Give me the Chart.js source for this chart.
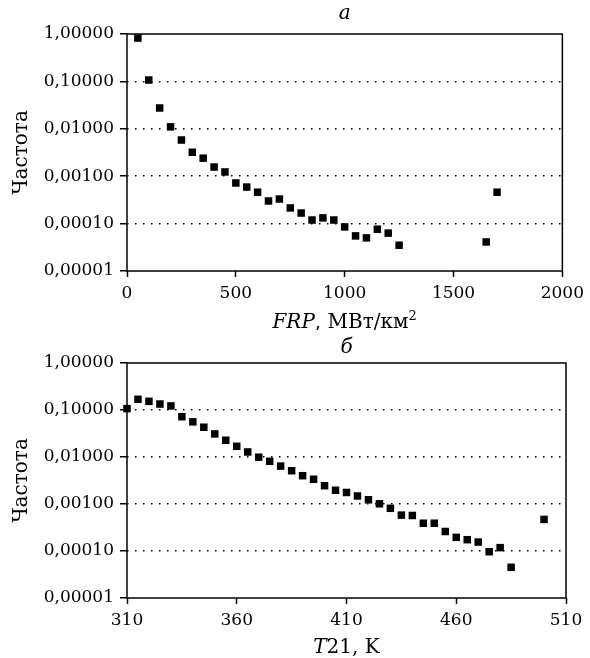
<!DOCTYPE html>
<html><head><meta charset="utf-8">
<script src="https://cdn.jsdelivr.net/npm/chart.js@4.4.0/dist/chart.umd.min.js"></script>
<style>
html,body{margin:0;padding:0;background:#fff;}
#wrap{position:relative;width:590px;height:658px;overflow:hidden;}
canvas{position:absolute;left:0;}
</style></head><body>
<div id="wrap">
<canvas id="c1" width="590" height="330" style="top:0px"></canvas>
<canvas id="c2" width="590" height="328" style="top:330px"></canvas>
</div>
<script>
// ---- data ----
const frpValues = [50,100,150,200,250,300,350,400,450,500,550,600,650,700,750,800,850,900,950,1000,1050,1100,1150,1200,1250,1650,1700];
const frpFreq   = [0.82,0.107,0.0275,0.011,0.0058,0.0032,0.0024,0.00156,0.00123,0.00072,0.00059,0.00046,0.00030,0.00033,0.000214,0.000167,0.000119,0.000132,0.000119,0.000085,0.000055,0.000050,0.000076,0.000063,0.000035,0.000041,0.00046];
const t21Values = [310,315,320,325,330,335,340,345,350,355,360,365,370,375,380,385,390,395,400,405,410,415,420,425,430,435,440,445,450,455,460,465,470,475,480,485,500];
const t21Freq   = [0.107,0.169,0.153,0.134,0.122,0.072,0.056,0.043,0.031,0.0227,0.0169,0.0128,0.0099,0.0081,0.0064,0.0051,0.0040,0.00336,0.00245,0.00196,0.00176,0.00148,0.00123,0.00101,0.00081,0.00058,0.00057,0.00039,0.00039,0.00026,0.000195,0.000174,0.000155,0.0000966,0.000118,0.000045,0.00047];
const frpTicks  = [0,500,1000,1500,2000];
const t21Ticks  = [310,360,410,460,510];
const freqTicks = [0.00001,0.0001,0.001,0.01,0.1,1];
const titleA = 'а';
const titleB = 'б';
const yTitle = 'Частота';
const xTitleA = [{t:'FRP', italic:true},{t:', МВт/км'},{t:'2', sup:true}];
const xTitleB = [{t:'T', italic:true},{t:'21, K'}];

const FONT = 'DejaVu Serif';

const framePlugin = {
  id:'frame',
  afterDraw(chart){
    const a = chart.chartArea, ctx = chart.ctx;
    ctx.save();
    ctx.strokeStyle = '#000'; ctx.lineWidth = 1.5;
    ctx.strokeRect(a.left, a.top, a.right - a.left, a.bottom - a.top);
    ctx.restore();
  }
};
const xTitlePlugin = {
  id:'xTitle',
  afterDraw(chart, args, opts){
    const parts = opts.parts; if(!parts) return;
    const ctx = chart.ctx, a = chart.chartArea;
    const fontOf = p => (p.italic?'italic ':'') + (p.sup?13:opts.size) + 'px "' + FONT + '"';
    ctx.save();
    ctx.fillStyle = '#000'; ctx.textBaseline = 'alphabetic'; ctx.textAlign = 'left';
    let total = 0;
    const ws = parts.map(p => { ctx.font = fontOf(p); const w = ctx.measureText(p.t).width; total += w; return w; });
    let x = (a.left + a.right)/2 - total/2;
    parts.forEach((p,i) => { ctx.font = fontOf(p); ctx.fillText(p.t, x, opts.y - (p.sup?8:0)); x += ws[i]; });
    ctx.restore();
  }
};

function makeChart(id, xs, ys, xTicks, xMin, xMax, title, titlePad, xAxisH, xParts, xTitleY){
  const pts = xs.map((x,i) => ({x:x, y:ys[i]}));
  return new Chart(document.getElementById(id), {
    type:'scatter',
    data:{datasets:[{data:pts, pointStyle:'rect', pointRadius:5.3, pointHoverRadius:5.3,
      backgroundColor:'#000', borderColor:'#000', borderWidth:0, clip:false}]},
    options:{
      responsive:false, animation:false, devicePixelRatio:1,
      layout:{padding:{left:0, right:24, top:0, bottom:0}},
      plugins:{
        legend:{display:false}, tooltip:{enabled:false},
        title:{display:true, text:title, color:'#000', fullSize:false,
          font:{family:FONT, size:20, style:'italic', weight:'normal', lineHeight:1.2}, padding:titlePad},
        xTitle:{parts:xParts, y:xTitleY, size:20}
      },
      scales:{
        x:{type:'linear', min:xMin, max:xMax,
          afterBuildTicks: s => { s.ticks = xTicks.map(v => ({value:v})); },
          afterFit: s => { s.height = xAxisH; },
          ticks:{font:{family:FONT, size:17}, color:'#000', padding:6, maxRotation:0, autoSkip:false,
            callback: v => String(v)},
          grid:{drawOnChartArea:false, drawTicks:true, tickLength:6, tickColor:'#000', tickWidth:1.5, color:'#000', tickBorderDash:[]},
          border:{display:false}
        },
        y:{type:'logarithmic', min:0.00001, max:1,
          afterBuildTicks: s => { s.ticks = freqTicks.map(v => ({value:v})); },
          afterFit: s => { s.width = 127; },
          ticks:{font:{family:FONT, size:17}, color:'#000', padding:6, autoSkip:false,
            callback: v => Number(v).toFixed(5).replace('.', ',')},
          grid:{drawOnChartArea:true, drawTicks:true, tickLength:7, lineWidth:1.5,
            color: c => (c.tick && (c.tick.value >= 0.99 || c.tick.value <= 0.0000101)) ? 'rgba(0,0,0,0)' : '#000',
            tickColor:'#000', tickWidth:1.5, tickBorderDash:[]},
          border:{display:false, dash:[1.5,6.5]},
          title:{display:true, text:yTitle, color:'#000', font:{family:FONT, size:20, lineHeight:1.2}, padding:{top:10, bottom:0}}
        }
      }
    },
    plugins:[framePlugin, xTitlePlugin]
  });
}

makeChart('c1', frpValues, frpFreq, frpTicks, 0, 2000, titleA, {top:2, bottom:8}, 59, xTitleA, 328);
makeChart('c2', t21Values, t21Freq, t21Ticks, 310, 510, titleB, {top:6, bottom:3}, 60, xTitleB, 323);
</script>
</body></html>
